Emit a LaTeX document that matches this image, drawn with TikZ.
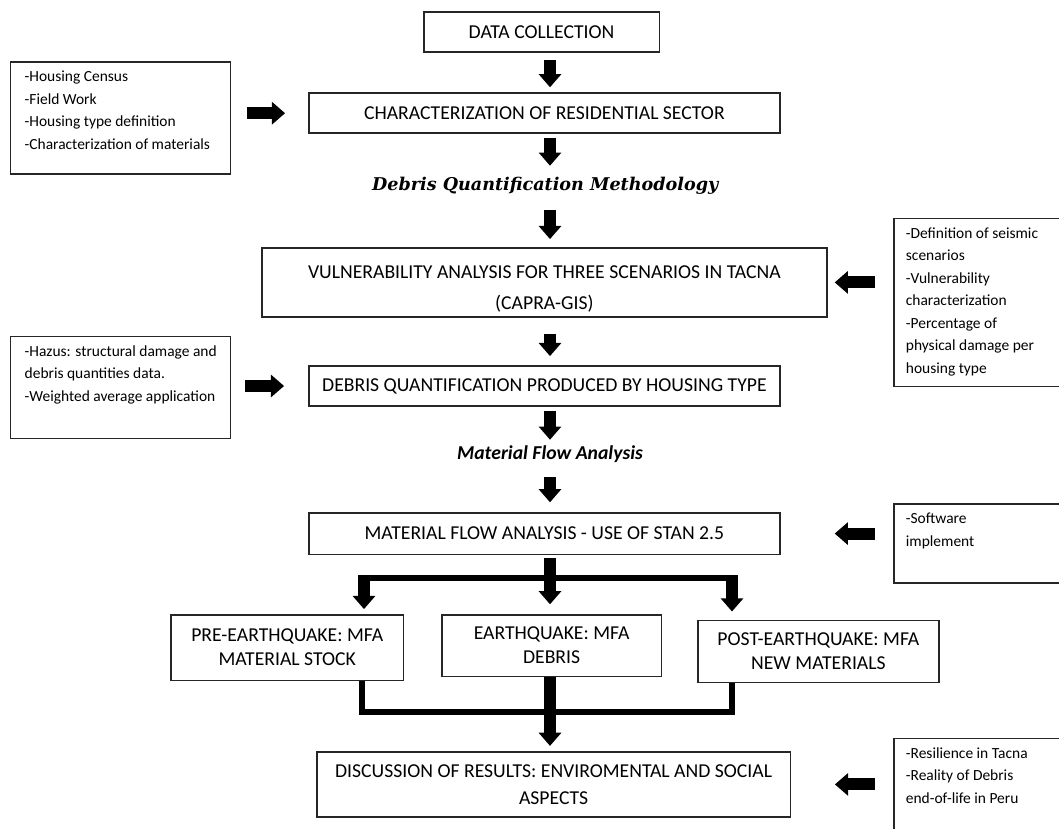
\documentclass[tikz,border=0pt]{standalone}
\usepackage{fontspec}
\setmainfont{Carlito}
\newfontfamily\headserif{DejaVu Serif}
\usepackage{tikz}
\usetikzlibrary{arrows.meta, calc}

\tikzstyle{stage} = [
    rectangle,
    draw=black!85,
    line width=1pt,
    inner sep=0pt,
    align=center,
    font=\fontsize{14}{17}\selectfont
]
\tikzstyle{note} = [
    rectangle,
    draw=black!85,
    line width=1pt,
    anchor=north west,
    inner xsep=0.35cm,
    inner ysep=0.1cm,
    font=\fontsize{11}{16}\selectfont
]
\tikzstyle{heading} = [inner sep=0pt, minimum height=0.5cm]
\tikzstyle{blockarrow} = [
    line width=0.3cm,
    -{Triangle[length=0.33cm, width=0.55cm]}
]
\tikzstyle{bar} = [line width=0.13cm]

\newcommand{\notelines}[3]{\parbox[c][#2][t]{#1}{\begin{tabular}[t]{@{}l@{}}#3\end{tabular}}}

\begin{document}
\begin{tikzpicture}
    \useasboundingbox (0,0) rectangle (26.475,-20.7);
    \coordinate (axis) at (13.75,0);

    % Main stages
    \node[stage, minimum width=5.88cm, minimum height=1.0cm] (data) at (13.54,-0.80) {DATA COLLECTION};
    \node[stage, minimum width=11.78cm, minimum height=1.0cm] (char) at (13.61,-2.83) {CHARACTERIZATION OF RESIDENTIAL SECTOR};
    \node[heading, font=\headserif\bfseries\itshape\fontsize{12.5}{15}\selectfont] (methodq) at (13.63,-4.65) {Debris Quantification Methodology};
    \node[stage, minimum width=14.13cm, minimum height=1.73cm] (vuln) at (13.61,-7.06) {\rule{0pt}{18pt}VULNERABILITY ANALYSIS FOR THREE SCENARIOS IN TACNA\\[5pt](CAPRA-GIS)};
    \node[stage, minimum width=11.78cm, minimum height=1.0cm] (debris) at (13.61,-9.65) {DEBRIS QUANTIFICATION PRODUCED BY HOUSING TYPE};
    \node[heading, font=\bfseries\itshape\fontsize{14}{16}\selectfont] (mfaq) at (13.75,-11.35) {Material Flow Analysis};
    \node[stage, minimum width=11.78cm, minimum height=1.03cm] (mfa) at (13.61,-13.34) {MATERIAL FLOW ANALYSIS - USE OF STAN 2.5};
    \node[stage, minimum width=5.8cm, minimum height=1.63cm] (pre) at (7.18,-16.19) {PRE-EARTHQUAKE: MFA\\MATERIAL STOCK};
    \node[stage, minimum width=5.48cm, minimum height=1.53cm] (earth) at (13.79,-16.14) {EARTHQUAKE: MFA\\DEBRIS};
    \node[stage, minimum width=6.03cm, minimum height=1.55cm] (post) at (20.46,-16.28) {POST-EARTHQUAKE: MFA\\NEW MATERIALS};
    \node[stage, minimum width=11.83cm, minimum height=1.63cm] (disc) at (13.84,-19.61) {DISCUSSION OF RESULTS: ENVIROMENTAL AND SOCIAL\\[2pt]ASPECTS};

    % Inputs
    \node[note] (census) at (0.25,-1.53) {\notelines{4.8cm}{2.6cm}{-Housing Census\\-Field Work\\-Housing type definition\\-Characterization of materials}};
    \node[note] (hazus) at (0.25,-8.4) {\notelines{4.8cm}{2.35cm}{-Hazus: structural damage and\\debris quantities data.\\-Weighted average application}};
    \node[note, inner xsep=0.3cm] (seismic) at (22.33,-5.45) {\notelines{3.9cm}{4.0cm}{-Definition of seismic\\scenarios\\-Vulnerability\\characterization\\-Percentage of\\physical damage per\\housing type}};
    \node[note, inner xsep=0.3cm] (software) at (22.33,-12.58) {\notelines{3.9cm}{1.78cm}{-Software\\implement}};
    \node[note, inner xsep=0.3cm] (resil) at (22.33,-18.45) {\notelines{3.9cm}{2.2cm}{-Resilience in Tacna\\-Reality of Debris\\end-of-life in Peru}};

    % Arrows
    \draw[blockarrow, shorten <=0.18cm, shorten >=0.13cm] (data.south -| axis) -- (char.north -| axis);
    \draw[blockarrow, shorten <=0.1cm, shorten >=0.25cm] (char.south -| axis) -- (methodq.north -| axis);
    \draw[blockarrow, shorten <=0.35cm, shorten >=0.2cm] (methodq.south -| axis) -- (vuln.north -| axis);
    \draw[blockarrow, shorten <=0.4cm, shorten >=0.23cm] (vuln.south -| axis) -- (debris.north -| axis);
    \draw[blockarrow, shorten <=0.1cm, shorten >=0.1cm] (debris.south -| axis) -- (mfaq.north -| axis);
    \draw[blockarrow, shorten <=0.33cm, shorten >=0.25cm] (mfaq.south -| axis) -- (mfa.north -| axis);
    \draw[blockarrow, shorten <=0.08cm, shorten >=0.25cm] (mfa.south -| axis) -- (earth.north -| axis);

    \draw[blockarrow, shorten <=0.4cm, shorten >=0.575cm] (census.east |- char) -- (char.west);
    \draw[blockarrow, shorten <=0.35cm, shorten >=0.6cm] (hazus.east |- debris) -- (debris.west);
    \draw[blockarrow, shorten <=0.455cm, shorten >=0.175cm] (seismic.west |- vuln) -- (vuln.east);
    \draw[blockarrow, shorten <=0.455cm, shorten >=1.35cm] (software.west |- mfa) -- (mfa.east);
    \draw[blockarrow, shorten <=0.455cm, shorten >=1.1cm] (resil.west |- disc) -- (disc.east);

    % Split and merge
    \coordinate (splitl) at (9.1,-14.45);
    \coordinate (splitr) at (18.3,-14.45);
    \draw[bar] (splitl) -- (splitr);
    \draw[blockarrow, shorten <=-0.065cm, shorten >=0.13cm] (splitl) -- (splitl |- pre.north);
    \draw[blockarrow, shorten <=-0.065cm, shorten >=0.2cm] (splitr) -- (splitr |- post.north);

    \coordinate (joinl) at (9.05,-17.8);
    \draw[bar] (pre.south -| joinl) -- (joinl) -- (joinl -| splitr) -- (post.south -| splitr);
    \draw[blockarrow, shorten >=0.13cm] (earth.south -| axis) -- (disc.north -| axis);
\end{tikzpicture}
\end{document}
